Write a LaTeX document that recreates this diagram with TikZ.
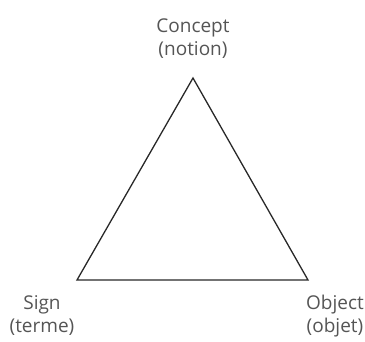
\documentclass[tikz,border=0pt]{standalone}
\usepackage{fontspec}
\setmainfont{Open Sans}
\usetikzlibrary{positioning}
\definecolor{textgray}{RGB}{85,85,85}
\definecolor{linegray}{RGB}{40,40,40}
\tikzset{
  tri_label/.style={align=center,text=textgray,
    font=\fontsize{19}{23}\selectfont,inner sep=0pt},
  tri_side/.style={draw=linegray,line width=1.3pt},
}
\begin{document}
\begin{tikzpicture}[x=1pt,y=-1pt]
  \useasboundingbox (0,0) rectangle (365,341);
  % --- Vertices ---
  \coordinate (apex)  at (193,78);
  \coordinate (left)  at (77,280);
  \coordinate (right) at (308,280);
  % --- Labels ---
  \node (concept) [tri_label] at (193,39) {Concept\\(notion)};
  \node (sign)    [tri_label] at (42,316) {Sign\\(terme)};
  \node (object)  [tri_label] at (335,316) {Object\\(objet)};
  % --- Sides ---
  \draw[tri_side] (apex) -- (left) -- (right) -- cycle;
\end{tikzpicture}
\end{document}
